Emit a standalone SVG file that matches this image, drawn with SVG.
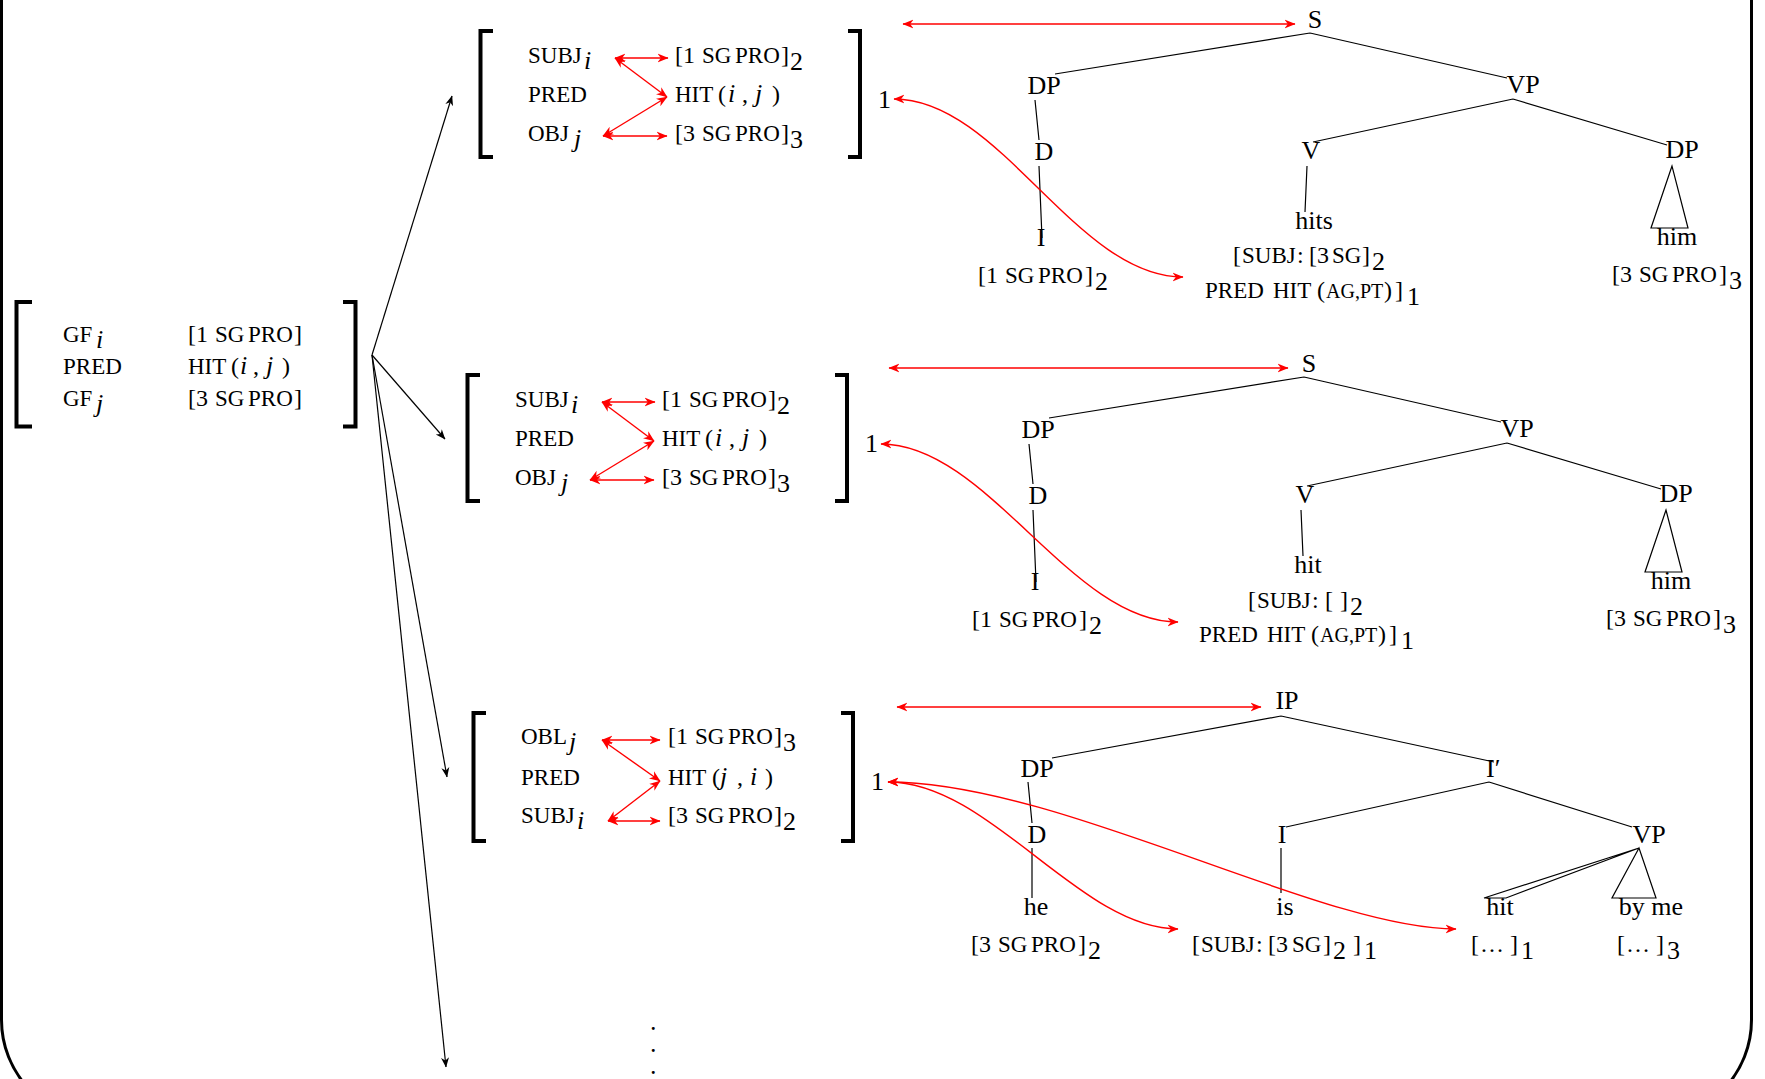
<svg xmlns="http://www.w3.org/2000/svg" width="1765" height="1079" viewBox="0 0 1765 1079">
<style>
text { font-family: "Liberation Serif", "Times New Roman", serif; fill: #000; }
.m { font-size: 24px; }
.sc { font-size: 23px; }
.sc2 { font-size: 20px; }
.mi { font-size: 26px; font-style: italic; }
.sub { font-size: 26px; }
.n { font-size: 26px; text-anchor: middle; }
.dot { font-size: 18px; font-weight: bold; }
.br { fill: none; stroke: #000; stroke-width: 4; }
.tl { stroke: #000; stroke-width: 1.2; fill: none; }
.rl { stroke: #ff0000; stroke-width: 1.4; fill: none; marker-start: url(#ar); marker-end: url(#ar); }
.bl { stroke: #000; stroke-width: 1.2; fill: none; marker-end: url(#ak); }
.frame { fill: none; stroke: #000; stroke-width: 3; }
</style>
<defs>
<marker id="ar" viewBox="0 0 10 10" refX="9.5" refY="5" markerWidth="11" markerHeight="11" markerUnits="userSpaceOnUse" orient="auto-start-reverse"><path d="M0,1 L10,5 L0,9 L3,5 z" fill="#ff0000"/></marker>
<marker id="ak" viewBox="0 0 10 10" refX="9.5" refY="5" markerWidth="10" markerHeight="10" markerUnits="userSpaceOnUse" orient="auto-start-reverse"><path d="M0,1 L10,5 L0,9 L3,5 z" fill="#000"/></marker>
</defs>
<rect width="1765" height="1079" fill="#fff"/>
<path class="frame" d="M1.5,-5 V1020 A100,100 0 0 0 101.5,1120 H1651.5 A100,100 0 0 0 1751.5,1020 V-5"/>

<!-- Source AVM -->
<g id="avm0">
<path class="br" d="M32,302 H16.5 V426.5 H32"/>
<path class="br" d="M343,302 H355.5 V426.5 H343"/>
<text class="sc" x="63" y="342">GF<tspan class="mi" x="96" dy="6">i</tspan></text>
<text class="sc" x="63" y="374">PRED</text>
<text class="sc" x="63" y="406">GF<tspan class="mi" x="96" dy="6">j</tspan></text>
<text class="m" x="188" y="342">[1<tspan class="sc" x="215">SG</tspan><tspan class="sc" x="248">PRO</tspan><tspan x="294">]</tspan></text>
<text class="sc" x="188" y="374">HIT<tspan class="m" x="231">(</tspan><tspan class="mi" x="240">i</tspan><tspan class="m" x="253">,</tspan><tspan class="mi" x="266">j</tspan><tspan class="m" x="282">)</tspan></text>
<text class="m" x="188" y="406">[3<tspan class="sc" x="215">SG</tspan><tspan class="sc" x="248">PRO</tspan><tspan x="294">]</tspan></text>
</g>

<!-- AVM 1 -->
<g id="avm1">
<path class="br" d="M493,31 H480.5 V157 H493"/>
<path class="br" d="M848,31 H860 V157 H848"/>
<text class="sc" x="528" y="63">SUBJ<tspan class="mi" x="584" dy="6">i</tspan></text>
<text class="sc" x="528" y="102">PRED</text>
<text class="sc" x="528" y="141">OBJ<tspan class="mi" x="574" dy="6">j</tspan></text>
<text class="m" x="675" y="63">[1<tspan class="sc" x="702">SG</tspan><tspan class="sc" x="735">PRO</tspan><tspan x="781">]</tspan><tspan class="sub" x="790" dy="7">2</tspan></text>
<text class="sc" x="675" y="102">HIT<tspan class="m" x="718">(</tspan><tspan class="mi" x="728">i</tspan><tspan class="m" x="742">,</tspan><tspan class="mi" x="755">j</tspan><tspan class="m" x="772">)</tspan></text>
<text class="m" x="675" y="141">[3<tspan class="sc" x="702">SG</tspan><tspan class="sc" x="735">PRO</tspan><tspan x="781">]</tspan><tspan class="sub" x="790" dy="7">3</tspan></text>
<text class="sub" x="878" y="108">1</text>
</g>

<!-- AVM 2 -->
<g id="avm2" transform="translate(-13,344)">
<path class="br" d="M493,31 H480.5 V157 H493"/>
<path class="br" d="M848,31 H860 V157 H848"/>
<text class="sc" x="528" y="63">SUBJ<tspan class="mi" x="584" dy="6">i</tspan></text>
<text class="sc" x="528" y="102">PRED</text>
<text class="sc" x="528" y="141">OBJ<tspan class="mi" x="574" dy="6">j</tspan></text>
<text class="m" x="675" y="63">[1<tspan class="sc" x="702">SG</tspan><tspan class="sc" x="735">PRO</tspan><tspan x="781">]</tspan><tspan class="sub" x="790" dy="7">2</tspan></text>
<text class="sc" x="675" y="102">HIT<tspan class="m" x="718">(</tspan><tspan class="mi" x="728">i</tspan><tspan class="m" x="742">,</tspan><tspan class="mi" x="755">j</tspan><tspan class="m" x="772">)</tspan></text>
<text class="m" x="675" y="141">[3<tspan class="sc" x="702">SG</tspan><tspan class="sc" x="735">PRO</tspan><tspan x="781">]</tspan><tspan class="sub" x="790" dy="7">3</tspan></text>
<text class="sub" x="878" y="108">1</text>
</g>

<!-- AVM 3 -->
<g id="avm3" transform="translate(-7,682)">
<path class="br" d="M493,31 H480.5 V159 H493"/>
<path class="br" d="M848,31 H860 V159 H848"/>
<text class="sc" x="528" y="62">OBL<tspan class="mi" x="576" dy="6">j</tspan></text>
<text class="sc" x="528" y="103">PRED</text>
<text class="sc" x="528" y="141">SUBJ<tspan class="mi" x="584" dy="6">i</tspan></text>
<text class="m" x="675" y="62">[1<tspan class="sc" x="702">SG</tspan><tspan class="sc" x="735">PRO</tspan><tspan x="781">]</tspan><tspan class="sub" x="790" dy="7">3</tspan></text>
<text class="sc" x="675" y="103">HIT<tspan class="m" x="719">(</tspan><tspan class="mi" x="727">j</tspan><tspan class="m" x="744">,</tspan><tspan class="mi" x="757">i</tspan><tspan class="m" x="772">)</tspan></text>
<text class="m" x="675" y="141">[3<tspan class="sc" x="702">SG</tspan><tspan class="sc" x="735">PRO</tspan><tspan x="781">]</tspan><tspan class="sub" x="790" dy="7">2</tspan></text>
<text class="sub" x="878" y="108">1</text>
</g>

<!-- Tree 1 -->
<g id="tree1">
<text class="n" x="1315" y="28">S</text>
<text class="n" x="1044" y="94">DP</text>
<text class="n" x="1523" y="93">VP</text>
<text class="n" x="1044" y="160">D</text>
<text class="n" x="1311" y="159">V</text>
<text class="n" x="1682" y="158">DP</text>
<text class="n" x="1041" y="246">I</text>
<text class="n" x="1314" y="229">hits</text>
<text class="n" x="1677" y="245">him</text>
<text class="m" x="978" y="283">[1<tspan class="sc" x="1005">SG</tspan><tspan class="sc" x="1038">PRO</tspan><tspan x="1085">]</tspan><tspan class="sub" x="1095" dy="7">2</tspan></text>
<text class="m" x="1233" y="263">[<tspan class="sc" x="1242">SUBJ</tspan><tspan x="1297">:</tspan><tspan x="1309">[3</tspan><tspan class="sc" x="1332">SG</tspan><tspan x="1362">]</tspan><tspan class="sub" x="1372" dy="7">2</tspan></text>
<text class="sc" x="1205" y="298">PRED<tspan x="1273">HIT</tspan><tspan class="m" x="1317">(</tspan><tspan class="sc2" x="1326">AG,PT</tspan><tspan class="m" x="1384">)</tspan><tspan class="m" x="1395">]</tspan><tspan class="sub" x="1407" dy="7">1</tspan></text>
<text class="m" x="1612" y="282">[3<tspan class="sc" x="1639">SG</tspan><tspan class="sc" x="1672">PRO</tspan><tspan x="1719">]</tspan><tspan class="sub" x="1729" dy="7">3</tspan></text>
<path class="tl" d="M1310,33 L1055,74 M1310,33 L1507,78 M1035,100 L1039,140 M1039,166 L1042,238 M1513,99 L1313,142 M1513,99 L1667,145 M1307,166 L1305,212 M1672,166 L1651,228 L1688,228 Z"/>
</g>

<!-- Tree 2 -->
<g id="tree2" transform="translate(-6,344)">
<text class="n" x="1315" y="28">S</text>
<text class="n" x="1044" y="94">DP</text>
<text class="n" x="1523" y="93">VP</text>
<text class="n" x="1044" y="160">D</text>
<text class="n" x="1311" y="159">V</text>
<text class="n" x="1682" y="158">DP</text>
<text class="n" x="1041" y="246">I</text>
<text class="n" x="1314" y="229">hit</text>
<text class="n" x="1677" y="245">him</text>
<text class="m" x="978" y="283">[1<tspan class="sc" x="1005">SG</tspan><tspan class="sc" x="1038">PRO</tspan><tspan x="1085">]</tspan><tspan class="sub" x="1095" dy="7">2</tspan></text>
<text class="m" x="1254" y="264">[<tspan class="sc" x="1263">SUBJ</tspan><tspan x="1318">:</tspan><tspan x="1331">[</tspan><tspan x="1346">]</tspan><tspan class="sub" x="1356" dy="7">2</tspan></text>
<text class="sc" x="1205" y="298">PRED<tspan x="1273">HIT</tspan><tspan class="m" x="1317">(</tspan><tspan class="sc2" x="1326">AG,PT</tspan><tspan class="m" x="1384">)</tspan><tspan class="m" x="1395">]</tspan><tspan class="sub" x="1407" dy="7">1</tspan></text>
<text class="m" x="1612" y="282">[3<tspan class="sc" x="1639">SG</tspan><tspan class="sc" x="1672">PRO</tspan><tspan x="1719">]</tspan><tspan class="sub" x="1729" dy="7">3</tspan></text>
<path class="tl" d="M1310,33 L1055,74 M1310,33 L1507,78 M1035,100 L1039,140 M1039,166 L1042,238 M1513,99 L1313,142 M1513,99 L1667,145 M1307,166 L1309,212 M1672,166 L1651,228 L1688,228 Z"/>
</g>

<!-- Tree 3 -->
<g id="tree3">
<text class="n" x="1287" y="709">IP</text>
<text class="n" x="1037" y="777">DP</text>
<text class="sub" x="1486" y="777">I′</text>
<text class="n" x="1037" y="843">D</text>
<text class="n" x="1282" y="843">I</text>
<text class="n" x="1649" y="843">VP</text>
<text class="n" x="1036" y="915">he</text>
<text class="n" x="1285" y="915">is</text>
<text class="n" x="1500" y="915">hit</text>
<text class="n" x="1651" y="915">by me</text>
<text class="m" x="971" y="952">[3<tspan class="sc" x="998">SG</tspan><tspan class="sc" x="1031">PRO</tspan><tspan x="1078">]</tspan><tspan class="sub" x="1088" dy="7">2</tspan></text>
<text class="m" x="1192" y="952">[<tspan class="sc" x="1201">SUBJ</tspan><tspan x="1256">:</tspan><tspan x="1268">[3</tspan><tspan class="sc" x="1292">SG</tspan><tspan x="1323">]</tspan><tspan class="sub" x="1333" dy="7">2</tspan><tspan x="1353" dy="-7">]</tspan><tspan class="sub" x="1364" dy="7">1</tspan></text>
<text class="m" x="1471" y="952">[<tspan x="1480">…</tspan><tspan x="1510">]</tspan><tspan class="sub" x="1521" dy="7">1</tspan></text>
<text class="m" x="1617" y="952">[<tspan x="1626">…</tspan><tspan x="1656">]</tspan><tspan class="sub" x="1667" dy="7">3</tspan></text>
<path class="tl" d="M1281,716 L1052,758 M1281,716 L1494,762 M1489,782 L1286,827 M1489,782 L1632,827 M1028,782 L1032,823 M1032,848 L1032,898 M1281,848 L1281,893 M1639,848 L1484,898 L1506,898 Z M1639,848 L1612,898 L1656,898 Z"/>
</g>

<text class="dot" x="651" y="1030">.<tspan x="651" dy="22">.</tspan><tspan x="651" dy="22">.</tspan></text>

<!-- Connectors -->
<g id="connectors">
<path class="bl" d="M372,355 L452,96"/>
<path class="bl" d="M372,355 L445,439"/>
<path class="bl" d="M372,355 L447,777"/>
<path class="bl" d="M372,355 L446,1067"/>

<path class="rl" d="M615,58 L668,58"/>
<path class="rl" d="M615,58 L667,97"/>
<path class="rl" d="M603,136 L667,97"/>
<path class="rl" d="M603,136 L667,136"/>

<path class="rl" d="M602,402 L655,402"/>
<path class="rl" d="M602,402 L654,441"/>
<path class="rl" d="M590,480 L654,441"/>
<path class="rl" d="M590,480 L654,480"/>

<path class="rl" d="M602,740 L660,740"/>
<path class="rl" d="M602,740 L660,781"/>
<path class="rl" d="M608,821 L660,781"/>
<path class="rl" d="M608,821 L660,821"/>

<path class="rl" d="M903,24 L1295,24"/>
<path class="rl" d="M889,368 L1288,368"/>
<path class="rl" d="M897,707 L1261,707"/>

<path class="rl" d="M894,99 C1000,99 1076,277 1183,277"/>
<path class="rl" d="M881,444 C987,444 1071,622 1178,622"/>
<path class="rl" d="M888,782 C990,782 1080,929 1178,929"/>
<path class="rl" d="M888,782 C1060,782 1320,929 1456,929"/>
</g>
</svg>
